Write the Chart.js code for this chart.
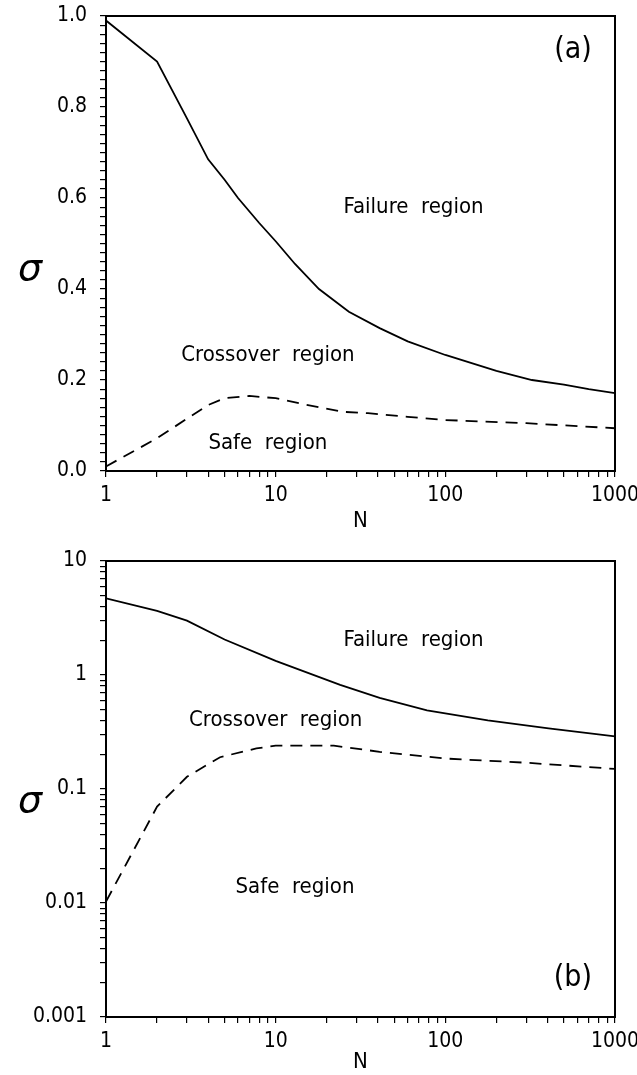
<!DOCTYPE html>
<html>
<head>
<meta charset="utf-8">
<title>Failure, crossover and safe regions</title>
<script src="https://cdn.jsdelivr.net/npm/chart.js@4.4.1/dist/chart.umd.min.js"></script>
<style>
    body { margin: 0; background: #fff; }
    .panel { position: relative; width: 637px; }
    #panelA { height: 540px; }
    #panelB { height: 535px; }
</style>
</head>
<body>
<div class="panel" id="panelA"><canvas id="chartA"></canvas></div>
<div class="panel" id="panelB"><canvas id="chartB"></canvas></div>
<script>
// Panel (a): linear sigma axis
const nFailA = [1, 2, 3, 4, 5, 6, 8, 10, 13, 18, 27, 41, 60, 100, 200, 324, 500, 700, 1000];
const sigmaFailA = [0.99, 0.90, 0.775, 0.685, 0.64, 0.60, 0.545, 0.505, 0.455, 0.40, 0.35, 0.314, 0.285, 0.255, 0.22, 0.20, 0.19, 0.18, 0.171];
const nSafeA = [1, 2, 3, 4, 5, 7, 10, 15, 25, 35, 60, 100, 300, 1000];
const sigmaSafeA = [0.01, 0.072, 0.115, 0.145, 0.16, 0.165, 0.16, 0.146, 0.13, 0.127, 0.119, 0.112, 0.105, 0.094];

// Panel (b): log sigma axis
const nFailB = [1, 2, 3, 5, 10, 24, 41, 78, 178, 406, 1000];
const sigmaFailB = [4.7, 3.65, 3.0, 2.05, 1.33, 0.82, 0.63, 0.49, 0.40, 0.34, 0.29];
const nSafeB = [1, 2, 3, 4.7, 7.7, 10, 22, 41, 100, 300, 1000];
const sigmaSafeB = [0.0103, 0.07, 0.128, 0.19, 0.227, 0.24, 0.24, 0.212, 0.185, 0.17, 0.15];

// Tick labels
const nTickValues = [1, 10, 100, 1000];
const nTickLabels = ['1', '10', '100', '1000'];
const sigmaTickValuesA = [0, 0.2, 0.4, 0.6, 0.8, 1.0];
const sigmaTickLabelsA = ['0.0', '0.2', '0.4', '0.6', '0.8', '1.0'];
const sigmaTickValuesB = [0.001, 0.01, 0.1, 1, 10];
const sigmaTickLabelsB = ['0.001', '0.01', '0.1', '1', '10'];

// Region labels (text, N, sigma)
const regionTextA = ['Failure  region', 'Crossover  region', 'Safe  region', '(a)'];
const regionNA = [65, 9, 9, 565];
const regionSigmaA = [0.58, 0.255, 0.06, 0.925];
const regionTextB = ['Failure  region', 'Crossover  region', 'Safe  region', '(b)'];
const regionNB = [65, 10, 13, 565];
const regionSigmaB = [2.03, 0.40, 0.0136, 0.0022];

const FONT = '"DejaVu Sans Condensed", "Liberation Sans Narrow", "DejaVu Sans", sans-serif';

document.addEventListener('DOMContentLoaded', function() {
    Chart.defaults.font.family = FONT;
    Chart.defaults.color = '#000';

    initPanel('chartA', {
        failN: nFailA, failSigma: sigmaFailA,
        safeN: nSafeA, safeSigma: sigmaSafeA,
        yType: 'linear', yMin: 0, yMax: 1,
        yTickValues: sigmaTickValuesA, yTickLabels: sigmaTickLabelsA,
        texts: regionTextA, textN: regionNA, textSigma: regionSigmaA,
        padTop: 16, xHeight: 69, titleBottom: 6, sigmaY: 270
    });

    initPanel('chartB', {
        failN: nFailB, failSigma: sigmaFailB,
        safeN: nSafeB, safeSigma: sigmaSafeB,
        yType: 'logarithmic', yMin: 0.001, yMax: 10,
        yTickValues: sigmaTickValuesB, yTickLabels: sigmaTickLabelsB,
        texts: regionTextB, textN: regionNB, textSigma: regionSigmaB,
        padTop: 21, xHeight: 58, titleBottom: 0, sigmaY: 262
    });
});

function toPoints(xs, ys) {
    return xs.map((x, i) => ({ x: x, y: ys[i] }));
}

// Major ticks at each decade, minor ticks at 2..9
function logTicks(min, max) {
    const ticks = [];
    for (let e = Math.round(Math.log10(min)); e < Math.round(Math.log10(max)); e++) {
        const base = Math.pow(10, e);
        for (let k = 1; k < 10; k++) {
            ticks.push({ value: Number((k * base).toPrecision(3)), major: k === 1 });
        }
    }
    ticks.push({ value: max, major: true });
    return ticks;
}

function linearTicks(min, max, step) {
    const ticks = [];
    const count = Math.round((max - min) / step);
    for (let i = 0; i <= count; i++) {
        ticks.push({ value: Math.round((min + i * step) * 1000) / 1000 });
    }
    return ticks;
}

function labelFor(value, values, labels) {
    for (let i = 0; i < values.length; i++) {
        if (Math.abs(value - values[i]) < 1e-9 * Math.max(1, values[i])) return labels[i];
    }
    return '';
}

function initPanel(canvasId, cfg) {
    const ctx = document.getElementById(canvasId).getContext('2d');

    // Frame, sigma symbol and region labels
    const panelDecor = {
        id: 'panelDecor',
        beforeDraw(chart) {
            const c = chart.ctx;
            c.save();
            c.fillStyle = '#fff';
            c.fillRect(0, 0, chart.width, chart.height);
            c.restore();
        },
        afterDraw(chart) {
            const c = chart.ctx;
            const area = chart.chartArea;
            const xs = chart.scales.x;
            const ys = chart.scales.y;
            c.save();
            c.strokeStyle = '#000';
            c.lineWidth = 2;
            c.strokeRect(area.left, area.top, area.right - area.left, area.bottom - area.top);

            c.fillStyle = '#000';
            c.textAlign = 'center';
            c.textBaseline = 'middle';
            cfg.texts.forEach((t, i) => {
                const px = xs.getPixelForValue(cfg.textN[i]);
                const py = ys.getPixelForValue(cfg.textSigma[i]);
                c.font = (t.charAt(0) === '(' ? '30px ' : '22px ') + FONT;
                c.fillText(t, px, py);
            });

            c.font = 'italic 38px "DejaVu Sans", sans-serif';
            c.fillText('σ', 30, cfg.sigmaY);
            c.restore();
        }
    };

    new Chart(ctx, {
        type: 'line',
        data: {
            datasets: [
                {
                    label: 'Failure boundary',
                    data: toPoints(cfg.failN, cfg.failSigma),
                    borderColor: '#000',
                    borderWidth: 1.8,
                    pointRadius: 0,
                    tension: 0,
                    fill: false
                },
                {
                    label: 'Safe boundary',
                    data: toPoints(cfg.safeN, cfg.safeSigma),
                    borderColor: '#000',
                    borderWidth: 1.8,
                    borderDash: [12, 8],
                    pointRadius: 0,
                    tension: 0,
                    fill: false
                }
            ]
        },
        options: {
            responsive: true,
            maintainAspectRatio: false,
            animation: false,
            parsing: false,
            layout: {
                padding: { top: cfg.padTop, right: 22, left: 0, bottom: 0 }
            },
            plugins: {
                legend: { display: false },
                tooltip: { enabled: false }
            },
            scales: {
                x: {
                    type: 'logarithmic',
                    min: 1,
                    max: 1000,
                    afterBuildTicks: function(scale) {
                        scale.ticks = logTicks(1, 1000);
                    },
                    afterFit: function(scale) {
                        scale.height = cfg.xHeight;
                        // labels may overhang the frame, keep the plot area fixed
                        scale.paddingLeft = 0;
                        scale.paddingRight = 0;
                    },
                    ticks: {
                        autoSkip: false,
                        maxRotation: 0,
                        minRotation: 0,
                        padding: 6,
                        font: { size: 21 },
                        callback: function(value) {
                            return labelFor(value, nTickValues, nTickLabels);
                        }
                    },
                    grid: {
                        drawOnChartArea: false,
                        tickLength: 6,
                        color: '#000',
                        lineWidth: 1.2
                    },
                    border: { color: '#000', width: 2 },
                    title: {
                        display: true,
                        text: 'N',
                        font: { size: 22 },
                        padding: { top: 0, bottom: cfg.titleBottom }
                    }
                },
                y: {
                    type: cfg.yType,
                    min: cfg.yMin,
                    max: cfg.yMax,
                    afterBuildTicks: function(scale) {
                        scale.ticks = cfg.yType === 'linear'
                            ? linearTicks(cfg.yMin, cfg.yMax, 0.02)
                            : logTicks(cfg.yMin, cfg.yMax);
                    },
                    afterFit: function(scale) {
                        scale.width = 106;
                        scale.paddingTop = 0;
                        scale.paddingBottom = 0;
                    },
                    ticks: {
                        autoSkip: false,
                        padding: 13,
                        font: { size: 21 },
                        callback: function(value) {
                            return labelFor(value, cfg.yTickValues, cfg.yTickLabels);
                        }
                    },
                    grid: {
                        drawOnChartArea: false,
                        tickLength: 6,
                        color: '#000',
                        lineWidth: 1.2
                    },
                    border: { color: '#000', width: 2 }
                }
            }
        },
        plugins: [panelDecor]
    });
}
</script>
</body>
